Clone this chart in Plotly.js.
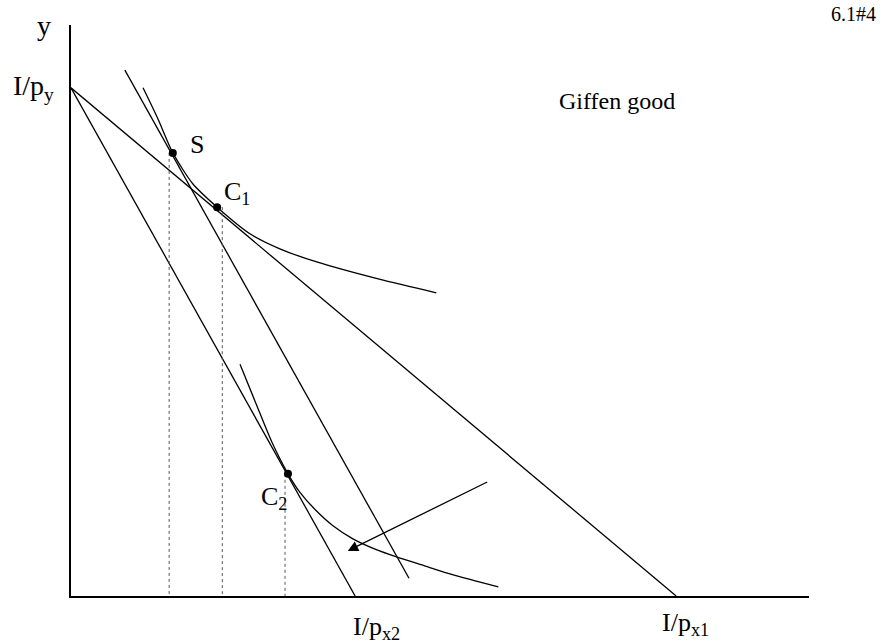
<!DOCTYPE html>
<html>
<head>
<meta charset="utf-8">
<script src="https://cdn.plot.ly/plotly-3.0.1.min.js"></script>
<style>html,body{margin:0;padding:0;background:#fff;}#chart{width:890px;height:643px;}</style>
</head>
<body>
<div id="chart"></div>
<script>
// ---- data (in diagram units) ----
const budget1X = [0, 82];          // I/py -> I/px1
const budget1Y = [89, 0];
const budget2X = [0, 38.5];        // I/py -> I/px2
const budget2Y = [89, 0];
const compLineX = [7.3, 45.8];     // compensated budget line (parallel to budget2)
const compLineY = [92.1, 3.1];
const indiff1X = [9.76, 11.8, 13.8, 16.5, 19.8, 24.3, 28.3, 33.3, 42.3, 49.5];
const indiff1Y = [89.0, 83.5, 77.6, 72.2, 68.1, 63.4, 60.8, 58.5, 55.3, 53.1];
const indiff2X = [22.9, 25.1, 27.2, 29.4, 31.0, 33.1, 35.5, 38.2, 41.2, 44.2, 48.0, 51.8, 57.9];
const indiff2Y = [40.6, 33.6, 27.0, 21.4, 18.2, 15.1, 12.3, 10.0, 8.2, 6.8, 5.25, 3.7, 1.6];
const pointLabels = ['S', 'C<sub>1</sub>', 'C<sub>2</sub>'];
const pointX = [13.8, 19.8, 29.4];
const pointY = [77.6, 68.1, 21.4];
const dropX = [13.3, 20.5, 29.0];  // dotted drop-line positions on the x axis
const arrowFrom = [56.6, 20.1];
const arrowTo = [37.5, 7.9];

const FONT = 'Liberation Serif, Times New Roman, serif';
const lineStyle = {color: '#000', width: 1.3};

const traces = [];
function addLine(x, y, shape) {
  traces.push({x: x, y: y, mode: 'lines', type: 'scatter', line: Object.assign({shape: shape || 'linear', smoothing: 0.7}, lineStyle), hoverinfo: 'skip', showlegend: false});
}
addLine(budget1X, budget1Y);
addLine(budget2X, budget2Y);
addLine(compLineX, compLineY);
addLine(indiff1X, indiff1Y, 'spline');
addLine(indiff2X, indiff2Y, 'spline');

// dotted drop lines from each point to the x axis
dropX.forEach(function (px, i) {
  traces.push({x: [px, px], y: [pointY[i], 0], mode: 'lines', type: 'scatter',
    line: {color: '#555', width: 1, dash: 'dot'}, hoverinfo: 'skip', showlegend: false});
});
traces.push({x: pointX, y: pointY, mode: 'markers', type: 'scatter',
  marker: {color: '#000', size: 8}, hoverinfo: 'skip', showlegend: false});

// label offsets (pixels) relative to points
const labelShift = [[24, 8], [20, 14], [-14, -24]];
const annotations = pointLabels.map(function (t, i) {
  return {x: pointX[i], y: pointY[i], xref: 'x', yref: 'y', text: t, showarrow: false,
    xshift: labelShift[i][0], yshift: labelShift[i][1], font: {family: FONT, size: 26, color: '#000'}};
});
annotations.push({xref: 'x', yref: 'y', x: arrowTo[0], y: arrowTo[1], ax: arrowFrom[0], ay: arrowFrom[1],
  axref: 'x', ayref: 'y', showarrow: true, arrowhead: 2, arrowsize: 1.6, arrowwidth: 1.3, arrowcolor: '#000', text: ''});

const layout = {
  width: 890, height: 643,
  margin: {l: 71, r: 81, t: 25, b: 47},
  paper_bgcolor: '#fff', plot_bgcolor: '#fff',
  showlegend: false,
  xaxis: {range: [0, 100], showgrid: false, zeroline: false, showticklabels: false, ticks: '',
    showline: true, linecolor: '#000', linewidth: 2},
  yaxis: {range: [0, 100], showgrid: false, zeroline: false, showticklabels: false, ticks: '',
    showline: true, linecolor: '#000', linewidth: 2},
  annotations: annotations
};

// text labels placed in page coordinates (paper fractions computed from plot area)
const plotL = 71, plotT = 25, plotW = 890 - 71 - 81, plotH = 643 - 25 - 47;
function addText(text, cx, cy, size) {
  layout.annotations.push({x: (cx - plotL) / plotW, y: 1 - (cy - plotT) / plotH, xref: 'paper', yref: 'paper',
    text: text, showarrow: false, xanchor: 'center', yanchor: 'middle',
    font: {family: FONT, size: size, color: '#000'}});
}
addText('y', 44, 25, 28);
addText('I/p<sub>y</sub>', 33, 87, 28);
addText('Giffen good', 617, 101, 24);
addText('I/p<sub>x2</sub>', 376, 628, 26);
addText('I/p<sub>x1</sub>', 685, 624, 26);
addText('6.1#4', 853, 14, 20);

Plotly.newPlot('chart', traces, layout, {displayModeBar: false, staticPlot: true});
</script>
</body>
</html>
